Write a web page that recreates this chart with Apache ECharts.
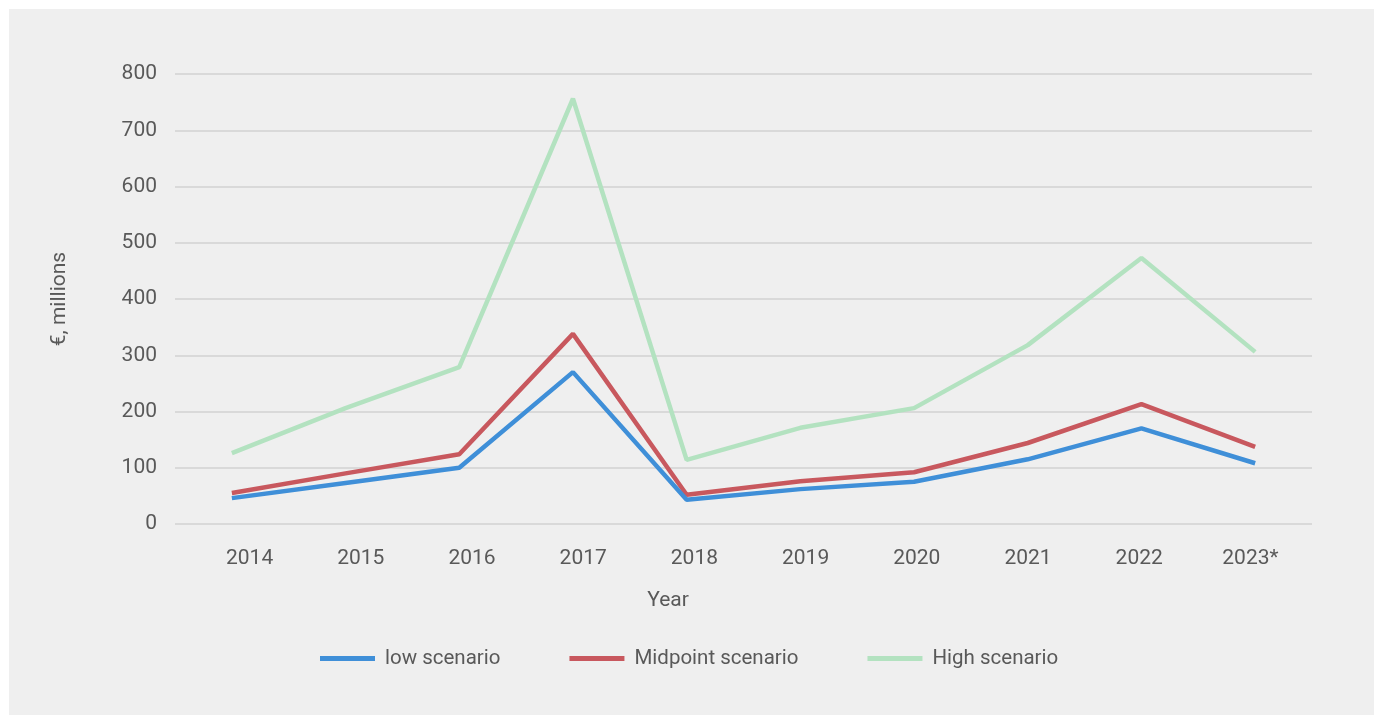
<!DOCTYPE html>
<html>
<head>
<meta charset="utf-8">
<script src="https://cdn.jsdelivr.net/npm/echarts@6/dist/echarts.min.js"></script>
<style>
html,body{margin:0;padding:0;background:#ffffff;}
#bg{position:absolute;left:9px;top:9px;right:0;bottom:0;background:#efefef;}
#chart{position:absolute;left:0;top:0;width:1374px;height:715px;}
</style>
</head>
<body>
<div id="bg"></div>
<div id="chart"></div>
<script>
const categories = ['2014','2015','2016','2017','2018','2019','2020','2021','2022','2023*'];
const lowScenario = [46, 73, 100, 270, 43, 62, 75, 115, 170, 108];
const midScenario = [55, 90, 124, 338, 52, 76, 92, 144, 213, 137];
const highScenario = [126, 206, 279, 756, 114, 171, 206, 318, 473, 306];
const yTicks = {min: 0, max: 800, interval: 100};

const textColor = '#595959';
const font = 'Roboto, "Liberation Sans", sans-serif';

const chart = echarts.init(document.getElementById('chart'));
chart.setOption({
  backgroundColor: 'transparent',
  textStyle: {fontFamily: font},
  grid: [
    {left: 175, right: 62, top: 74, bottom: 191},
    {left: 194, right: 68, top: 74, bottom: 191}
  ],
  xAxis: [
    {
      type: 'category', gridIndex: 0, data: categories, boundaryGap: true,
      axisLine: {show: false}, axisTick: {show: false}, axisLabel: {show: false}
    },
    {
      type: 'category', gridIndex: 1, data: categories, boundaryGap: true,
      axisLine: {show: false}, axisTick: {show: false},
      axisLabel: {color: textColor, fontSize: 21, margin: 24, fontFamily: font},
      name: 'Year', nameLocation: 'middle', nameGap: 66,
      nameTextStyle: {color: textColor, fontSize: 21, fontFamily: font, padding: [0, 164, 0, 0]}
    }
  ],
  yAxis: [
    {
      type: 'value', gridIndex: 0, min: yTicks.min, max: yTicks.max, interval: yTicks.interval,
      axisLine: {show: false}, axisTick: {show: false},
      axisLabel: {color: textColor, fontSize: 21, margin: 18, fontFamily: font},
      splitLine: {lineStyle: {color: '#d9d9d9', width: 2}},
      name: '€, millions', nameLocation: 'middle', nameGap: 105, nameRotate: 90,
      nameTextStyle: {color: textColor, fontSize: 21, fontFamily: font}
    },
    {
      type: 'value', gridIndex: 1, min: yTicks.min, max: yTicks.max, interval: yTicks.interval,
      show: false
    }
  ],
  legend: {
    left: 315, top: 643,
    itemWidth: 55, itemHeight: 5, itemGap: 69,
    icon: 'rect',
    textStyle: {color: textColor, fontSize: 20.5, fontFamily: font, padding: [0, 0, 0, 5]},
    data: ['low scenario', 'Midpoint scenario', 'High scenario']
  },
  series: [
    {name: 'High scenario', type: 'line', data: highScenario, xAxisIndex: 0, yAxisIndex: 0,
     symbol: 'none', lineStyle: {color: '#b3e2c0', width: 4.5}, itemStyle: {color: '#b3e2c0'}, z: 2},
    {name: 'Midpoint scenario', type: 'line', data: midScenario, xAxisIndex: 0, yAxisIndex: 0,
     symbol: 'none', lineStyle: {color: '#c8585e', width: 4.5}, itemStyle: {color: '#c8585e'}, z: 3},
    {name: 'low scenario', type: 'line', data: lowScenario, xAxisIndex: 0, yAxisIndex: 0,
     symbol: 'none', lineStyle: {color: '#3f8fd8', width: 4.5}, itemStyle: {color: '#3f8fd8'}, z: 4}
  ],
  animation: false
});
</script>
</body>
</html>
